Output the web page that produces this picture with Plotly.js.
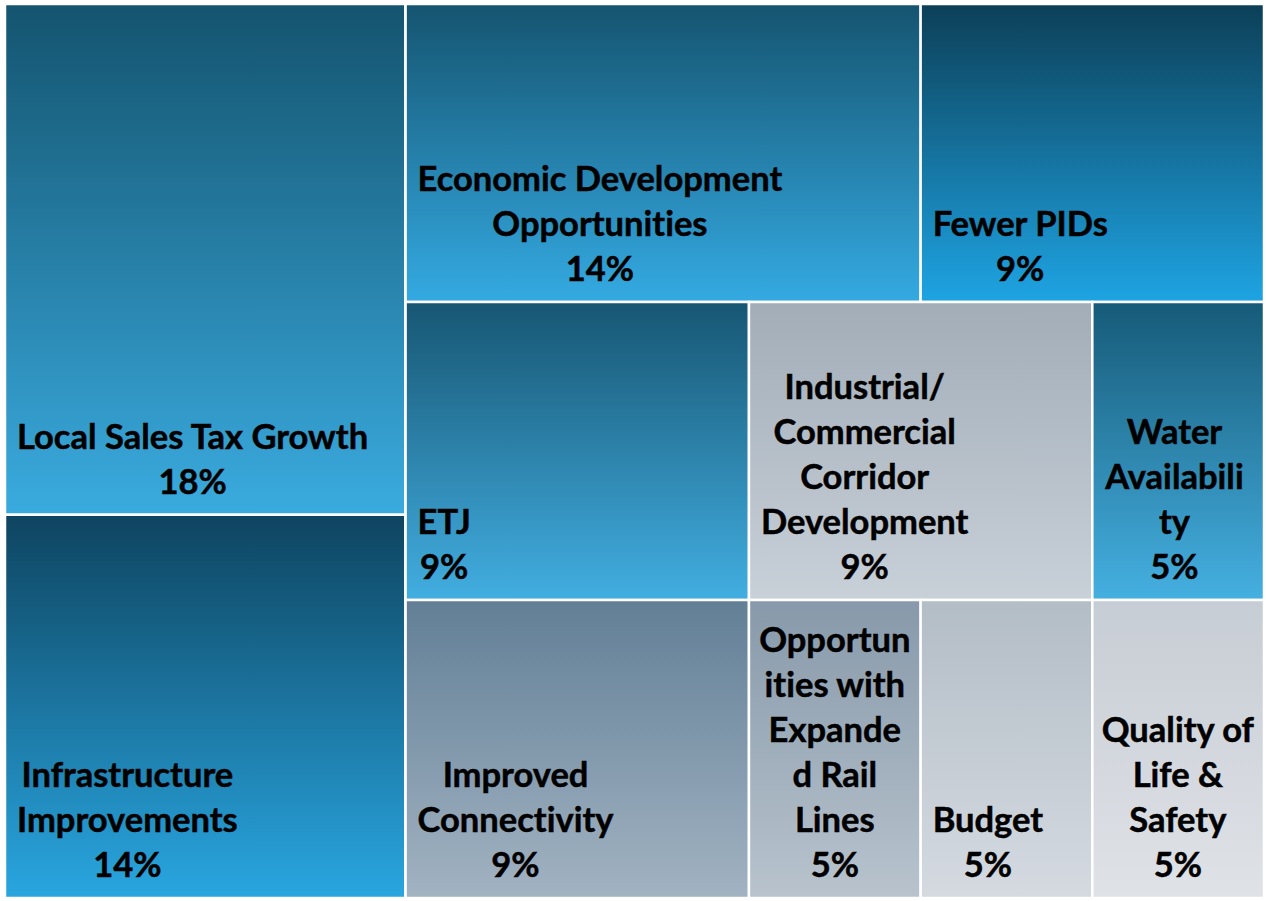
<!DOCTYPE html>
<html>
<head>
<meta charset="utf-8">
<script src="https://cdn.plot.ly/plotly-3.0.1.min.js"></script>
<style>
  html, body { margin: 0; padding: 0; background: #ffffff; }
  #chart { width: 1266px; height: 901px; }
  text.slicetext { font-variant-ligatures: none; font-feature-settings: "liga" 0, "clig" 0; stroke: #000000; stroke-width: 0.5px; }
</style>
</head>
<body>
<div id="chart"></div>
<script>
// ---- data ----
const categories = [
  'Local Sales Tax Growth',
  'Infrastructure Improvements',
  'Economic Development Opportunities',
  'Fewer PIDs',
  'ETJ',
  'Industrial/Commercial Corridor Development',
  'Water Availability',
  'Improved Connectivity',
  'Opportunities with Expanded Rail Lines',
  'Budget',
  'Quality of Life & Safety'
];
const counts = [4, 3, 3, 2, 2, 2, 1, 2, 1, 1, 1];
const displayLabels = [
  'Local Sales Tax Growth',
  'Infrastructure<br>Improvements',
  'Economic Development<br>Opportunities',
  'Fewer PIDs',
  'ETJ',
  'Industrial/<br>Commercial<br>Corridor<br>Development',
  'Water<br>Availabili<br>ty',
  'Improved<br>Connectivity',
  'Opportun<br>ities with<br>Expande<br>d Rail<br>Lines',
  'Budget',
  'Quality of<br>Life &<br>Safety'
];
// tiling groups (how the reference arranges the tiles)
const groups = ['Left', 'Left', 'Row 1', 'Row 1', 'Row 2', 'Row 2', 'Row 2', 'Row 3', 'Row 3', 'Row 3', 'Row 3'];
const groupParents = { 'Left': 'All', 'Right': 'All', 'Row 1': 'Right', 'Row 2': 'Right', 'Row 3': 'Right' };

// ---- styles ----
const topColors = ['#14546f', '#0e4460', '#155470', '#0c3f57', '#175673', '#a2adb8', '#165a78', '#627f96', '#8799aa', '#b3bdc6', '#c7cdd4'];
const bottomColors = ['#3aabdf', '#29a6e0', '#34aae2', '#1ea4e3', '#42aee1', '#c8d0d8', '#45b0e1', '#a2b3c2', '#b8c3cd', '#d5dae1', '#dfe2e7'];

// ---- build hierarchy ----
const ids = ['All'].concat(Object.keys(groupParents));
const parents = [''].concat(Object.values(groupParents));
const labels = ids.slice();
const values = ids.map(() => 0);
const texts = ids.map(() => '');
const templates = ids.map(() => ' ');
const colors = ids.map(() => '#ffffff');
categories.forEach((c, i) => {
  ids.push('leaf' + i);
  parents.push(groups[i]);
  labels.push(c);
  values.push(counts[i]);
  texts.push(displayLabels[i]);
  templates.push('%{text}<br>%{percentRoot:.0%}');
  colors.push(bottomColors[i]);
});

const trace = {
  type: 'treemap',
  ids: ids,
  labels: labels,
  parents: parents,
  values: values,
  text: texts,
  texttemplate: templates,
  textposition: 'bottom left',
  sort: false,
  branchvalues: 'remainder',
  tiling: { packing: 'slice-dice', pad: 0 },
  pathbar: { visible: false },
  marker: {
    colors: colors,
    line: { color: '#ffffff', width: 2.5 },
    pad: { t: 0, l: 0, r: 0, b: 0 },
    depthfade: false
  },
  leaf: { opacity: 1 },
  textfont: { family: 'Lato, Roboto, sans-serif', size: 34.5, color: '#000000', weight: 'bold' },
  hoverinfo: 'skip'
};

const layout = {
  width: 1266,
  height: 901,
  margin: { l: 5, r: 2, t: 4, b: 3 },
  paper_bgcolor: '#ffffff',
  uniformtext: { minsize: 34.5, mode: 'show' },
  showlegend: false,
  hovermode: false
};

Plotly.newPlot('chart', [trace], layout, { displayModeBar: false, staticPlot: true }).then(gd => {
  const svg = gd.querySelector('svg.main-svg');
  const NS = 'http://www.w3.org/2000/svg';
  let defs = svg.querySelector('defs');
  if (!defs) { defs = document.createElementNS(NS, 'defs'); svg.insertBefore(defs, svg.firstChild); }
  categories.forEach((c, i) => {
    const g = document.createElementNS(NS, 'linearGradient');
    g.setAttribute('id', 'tmgrad' + i);
    g.setAttribute('x1', '0'); g.setAttribute('y1', '0');
    g.setAttribute('x2', '0'); g.setAttribute('y2', '1');
    [[0, topColors[i]], [1, bottomColors[i]]].forEach(([o, col]) => {
      const s = document.createElementNS(NS, 'stop');
      s.setAttribute('offset', o);
      s.setAttribute('stop-color', col);
      g.appendChild(s);
    });
    defs.appendChild(g);
  });

  gd.querySelectorAll('g.slice').forEach(sl => {
    const d = sl.__data__;
    let id = null;
    try { id = d.data.data.id; } catch (e) {}
    if (!id || id.indexOf('leaf') !== 0) return;
    const i = +id.slice(4);
    const path = sl.querySelector('path.surface');
    if (path) path.style.fill = 'url(#tmgrad' + i + ')';
    const txt = sl.querySelector('text.slicetext');
    if (!txt || !path) return;
    // center the lines relative to each other
    const lines = txt.querySelectorAll('tspan.line');
    const bb0 = txt.getBBox();
    const cx = bb0.x + bb0.width / 2;
    txt.setAttribute('text-anchor', 'middle');
    txt.style.textAnchor = 'middle';
    if (lines.length) {
      lines.forEach((ln, k) => {
        ln.setAttribute('x', cx);
        ln.setAttribute('dy', (k * 45) + 'px');
      });
    } else {
      txt.setAttribute('x', cx);
    }
    // place block near bottom-left of the tile
    const pr = path.getBoundingClientRect();
    const tr = txt.getBoundingClientRect();
    const padL = 12, padB = 14;
    let targetLeft = pr.left + padL;
    if (tr.width > pr.width - 2 * padL) targetLeft = pr.left + (pr.width - tr.width) / 2;
    const targetBottom = pr.bottom - padB;
    const dx = targetLeft - tr.left;
    const dy = targetBottom - tr.bottom;
    const old = txt.getAttribute('transform') || '';
    txt.setAttribute('transform', 'translate(' + dx + ',' + dy + ') ' + old);
  });
});
</script>
</body>
</html>
